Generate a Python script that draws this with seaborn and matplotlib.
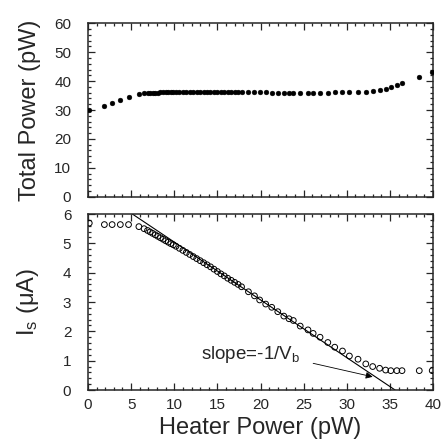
import numpy as np
import pandas as pd
import seaborn as sns
import matplotlib.pyplot as plt
from matplotlib.ticker import MultipleLocator

# heater power (pW), shared by both panels
heater = [0.15, 1.9, 2.8, 3.75, 4.7,
          5.9, 6.5, 6.9, 7.2, 7.5, 7.8, 8.1, 8.4, 8.7, 9.0, 9.3, 9.6, 9.9,
          10.2, 10.6, 11.0, 11.4, 11.8, 12.2, 12.6, 13.0, 13.4, 13.8, 14.2,
          14.6, 15.0, 15.4, 15.8, 16.2, 16.6, 17.0, 17.4, 17.8,
          18.6, 19.3, 19.9, 20.6, 21.3, 22.0, 22.7, 23.3, 23.8, 24.6, 25.5,
          26.1, 26.9, 27.8, 28.6, 29.5, 30.3, 31.3, 32.2, 33.0, 33.8, 34.5,
          35.1, 35.8, 36.4, 38.4, 39.9]

total_power = [29.9, 31.3, 32.4, 33.5, 34.4,
               35.4, 35.8, 35.9, 35.9, 36.0, 36.0, 36.0, 36.1, 36.1, 36.1, 36.1, 36.1, 36.1,
               36.1, 36.1, 36.1, 36.1, 36.1, 36.1, 36.1, 36.1, 36.1, 36.1, 36.1,
               36.2, 36.2, 36.2, 36.1, 36.1, 36.1, 36.1, 36.1, 36.1,
               36.1, 36.1, 36.1, 36.1, 36.0, 36.0, 36.0, 36.0, 36.0, 36.0, 36.0,
               36.0, 36.0, 36.0, 36.1, 36.1, 36.1, 36.1, 36.2, 36.6, 36.9, 37.4,
               37.9, 38.5, 39.3, 41.5, 43.2]

i_s = [5.69, 5.64, 5.64, 5.64, 5.64,
       5.57, 5.50, 5.44, 5.39, 5.34, 5.29, 5.24, 5.19, 5.14, 5.09, 5.04, 4.99, 4.95,
       4.90, 4.83, 4.76, 4.69, 4.62, 4.55, 4.48, 4.41, 4.34, 4.27, 4.20,
       4.12, 4.04, 3.96, 3.89, 3.81, 3.74, 3.67, 3.60, 3.52,
       3.35, 3.21, 3.07, 2.93, 2.82, 2.67, 2.52, 2.43, 2.37, 2.18, 2.05,
       1.93, 1.80, 1.62, 1.46, 1.33, 1.16, 1.05, 0.89, 0.80, 0.74, 0.68,
       0.66, 0.66, 0.66, 0.66, 0.66]

# straight line fit: slope = -1/Vb, crossing zero at fit_x0
fit_slope = -0.197
fit_x0 = 35.6
fit_xstart = 5.1

df = pd.DataFrame({'heater': heater, 'total': total_power, 'is': i_s})
fit_x = np.array([fit_xstart, fit_x0])
fit = pd.DataFrame({'x': fit_x, 'y': fit_slope * (fit_x - fit_x0)})

sns.set_style('ticks')
plt.rcParams['font.family'] = ['Liberation Sans', 'DejaVu Sans']
plt.rcParams['mathtext.fontset'] = 'custom'
plt.rcParams['mathtext.rm'] = 'Liberation Sans'
plt.rcParams['mathtext.it'] = 'Liberation Sans:italic'

fig = plt.figure(figsize=(4.43, 4.40), dpi=100)
ax1 = fig.add_axes([0.1986, 0.553, 0.779, 0.394])
ax2 = fig.add_axes([0.1986, 0.1136, 0.779, 0.400])

sns.scatterplot(data=df, x='heater', y='total', ax=ax1, color='black',
                s=12, edgecolor='black', linewidth=0.3, zorder=3)
sns.scatterplot(data=df, x='heater', y='is', ax=ax2, facecolor='none',
                edgecolor='black', s=17, linewidth=0.7, zorder=3)
sns.lineplot(data=fit, x='x', y='y', ax=ax2, color='black', linewidth=0.8)

ax1.set_xlim(0, 40)
ax1.set_ylim(0, 60)
ax2.set_xlim(0, 40)
ax2.set_ylim(0, 6)

for ax in (ax1, ax2):
    ax.xaxis.set_major_locator(MultipleLocator(5))
    ax.xaxis.set_minor_locator(MultipleLocator(1))
    ax.tick_params(which='both', direction='in', top=True, right=True,
                   width=0.9, labelsize=11)
    ax.tick_params(which='major', length=5)
    ax.tick_params(which='minor', length=2.5)
    ax.tick_params(axis='y', pad=12)
    ax.tick_params(axis='x', pad=6)
    for sp in ax.spines.values():
        sp.set_linewidth(1.1)

ax1.yaxis.set_major_locator(MultipleLocator(10))
ax1.yaxis.set_minor_locator(MultipleLocator(2))
ax2.yaxis.set_major_locator(MultipleLocator(1))
ax2.yaxis.set_minor_locator(MultipleLocator(0.2))
ax1.tick_params(labelbottom=False)

ax1.set_xlabel('')
ax1.set_ylabel('Total Power (pW)', fontsize=17)
ax2.set_ylabel(r'I$_\mathrm{s}$ (μA)', fontsize=17)
ax2.set_xlabel('Heater Power (pW)', fontsize=17)
ax1.yaxis.set_label_coords(-0.135, 0.5)
ax2.yaxis.set_label_coords(-0.135, 0.5)
ax2.xaxis.set_label_coords(0.5, -0.155)

ax2.text(13.1, 1.2, r'slope=-1/V$_\mathrm{b}$', fontsize=13.5, ha='left', va='center')
ax2.annotate('', xy=(33.0, 0.45), xytext=(26.1, 0.91),
             arrowprops=dict(arrowstyle='-|>', lw=0.6, color='black',
                             mutation_scale=10, shrinkA=0, shrinkB=0))

plt.savefig('out.png', dpi=100)
